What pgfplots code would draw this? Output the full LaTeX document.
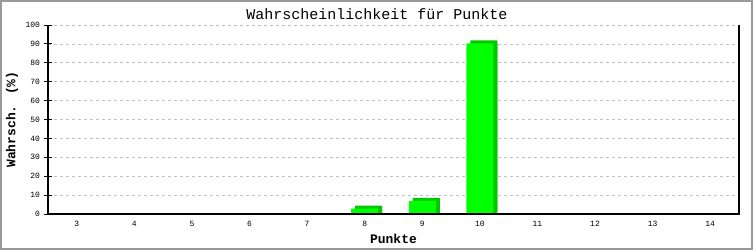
\documentclass[border=0pt]{standalone}
\usepackage{fontspec}
\setmainfont{Liberation Mono}
\usepackage{pgfplots}
\pgfplotsset{compat=1.18}
\definecolor{barfront}{HTML}{00FF00}
\definecolor{barside}{HTML}{00C800}
\definecolor{gridc}{HTML}{C0C0C0}
\definecolor{frame}{HTML}{999999}
\begin{document}
\begin{tikzpicture}[x=1pt,y=1pt]
\fill[white] (0,0) rectangle (753,250);
\draw[frame, line width=2pt] (1,1) rectangle (752,249);
\useasboundingbox (0,0) rectangle (753,250);
\node[font=\fontsize{15}{16}\selectfont, anchor=center] at (377,236) {Wahrscheinlichkeit für Punkte};
\begin{axis}[
  at={(48pt,36pt)}, anchor=south west,
  scale only axis, width=691pt, height=189pt,
  xmin=2.5, xmax=14.5, ymin=0, ymax=100,
  axis line style={draw=none},
  xtick={3,...,14},
  xtick style={draw=none},
  ytick={0,10,...,100},
  ytick pos=left,
  ytick style={black, line width=1pt},
  tick align=center,
  major tick length=9pt,
  ymajorgrids,
  grid style={gridc, line width=0.8pt, dash pattern=on 3pt off 3pt},
  /pgf/number format/assume math mode=true,
  ticklabel style={font=\fontsize{8}{9}\selectfont},
  xticklabel style={yshift=1pt},
  xlabel={\textbf{Punkte}},
  ylabel={\textbf{Wahrsch. (\%)}},
  every axis x label/.style={at={(axis description cs:0.5,-0.132)}, anchor=center, font=\fontsize{13}{14}\selectfont},
  every axis y label/.style={at={(axis description cs:-0.052,0.5)}, anchor=center, rotate=90, font=\fontsize{13}{14}\selectfont},
  clip=false,
]
\addplot[ybar, bar width=27pt, bar shift=0pt, fill=barside, draw=none, xshift=4pt, yshift=3pt]
  coordinates {(8,2.78) (9,6.94) (10,90.28)};
\addplot[ybar, bar width=27pt, bar shift=0pt, fill=barside, draw=none, xshift=4pt]
  coordinates {(8,2.78) (9,6.94) (10,90.28)};
\addplot[ybar, bar width=27pt, bar shift=0pt, fill=barfront, draw=none]
  coordinates {(8,2.78) (9,6.94) (10,90.28)};
\draw[black, line width=1.2pt] (rel axis cs:0,1) -- (rel axis cs:0,0) -- (rel axis cs:1,0) -- (rel axis cs:1,1);
\end{axis}
\end{tikzpicture}
\end{document}
